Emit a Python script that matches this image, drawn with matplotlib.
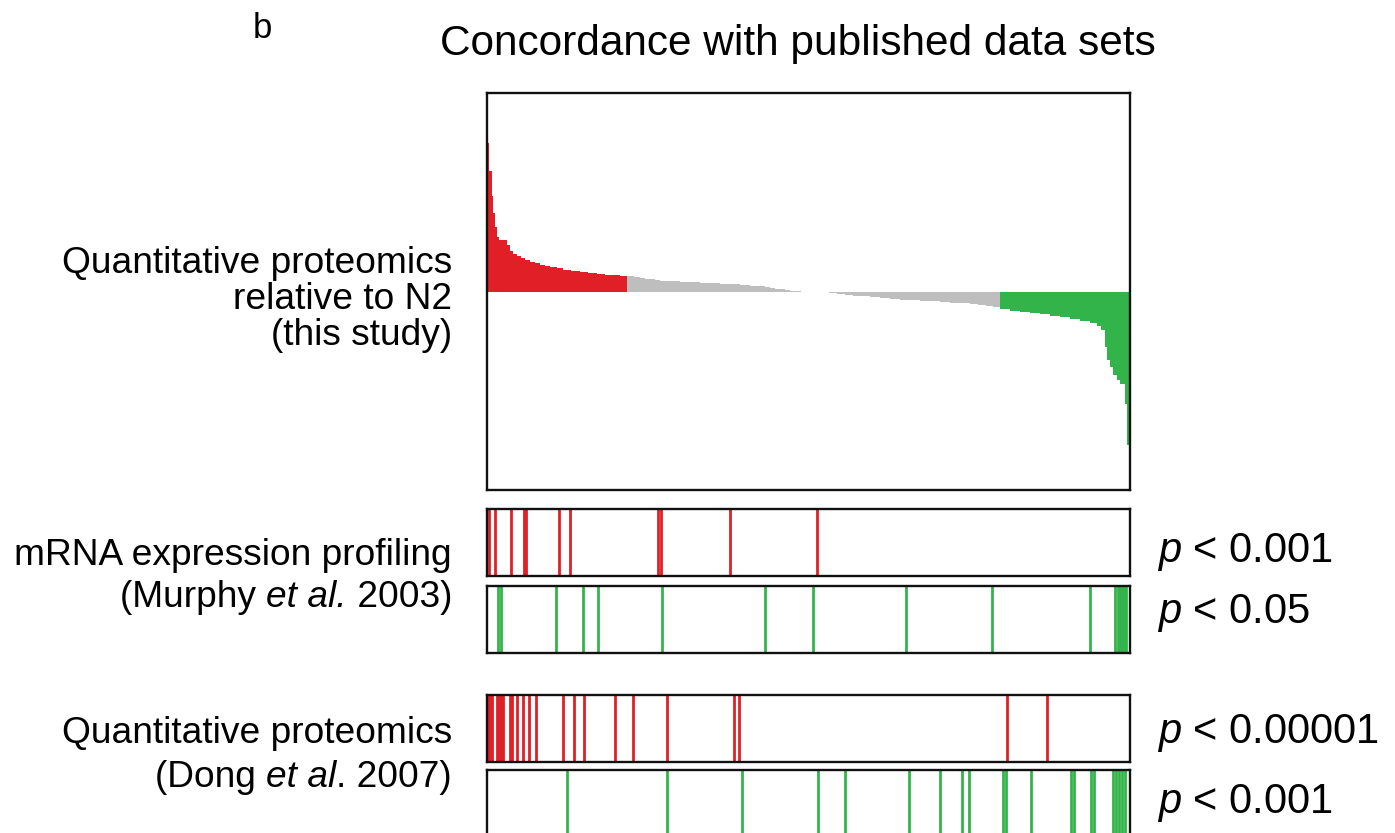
import numpy as np
import matplotlib
matplotlib.use("Agg")
import matplotlib.pyplot as plt

plt.rcParams['font.family'] = ['Liberation Sans', 'DejaVu Sans']
plt.rcParams['mathtext.fontset'] = 'custom'
plt.rcParams['mathtext.rm'] = 'Liberation Sans'
plt.rcParams['mathtext.it'] = 'Liberation Sans:italic'

RED = '#E01F26'
GREEN = '#33B44A'
GREY = '#BEBEBE'

# Ranked log ratios (this study), stored as steps: rank edges and step heights
up_edges = [0, 2, 4.7, 6.3, 8, 9.7, 12.3, 19.7, 23, 26, 30, 34, 38, 43, 48, 53, 58, 63,
            70, 76, 84, 93, 101, 110, 118, 126, 133, 140]
up_values = [1.50, 1.21, 0.96, 0.79, 0.65, 0.55, 0.52, 0.47, 0.41, 0.38, 0.36, 0.34,
             0.32, 0.30, 0.285, 0.27, 0.26, 0.25, 0.235, 0.22, 0.205, 0.195, 0.185,
             0.178, 0.17, 0.165, 0.16]

flat_pos_edges = [140, 147, 153, 158, 163, 168, 173, 183, 193, 203, 213, 223, 233, 243,
                  253, 263, 273, 278, 283, 288, 293, 298, 303, 308, 314]
flat_pos_values = [0.16, 0.15, 0.14, 0.13, 0.122, 0.116, 0.11, 0.105, 0.098, 0.092,
                   0.087, 0.082, 0.077, 0.071, 0.065, 0.058, 0.052, 0.045, 0.037, 0.029,
                   0.022, 0.016, 0.01, 0.005]

flat_neg_edges = [342, 350, 358, 366, 374, 383, 393, 403, 413, 423, 433, 443, 453, 463,
                  473, 483, 491, 499, 506, 513]
flat_neg_values = [-0.015, -0.025, -0.035, -0.045, -0.05, -0.06, -0.07, -0.077, -0.085,
                   -0.09, -0.095, -0.1, -0.105, -0.112, -0.12, -0.13, -0.14, -0.15, -0.16]

down_edges = [513, 523, 533, 543, 553, 563, 573, 583, 593, 603, 610, 614, 618, 620, 623,
              626, 630, 633, 638, 640, 641.5]
down_values = [-0.18, -0.195, -0.205, -0.215, -0.23, -0.245, -0.26, -0.28, -0.3, -0.32,
               -0.35, -0.39, -0.56, -0.69, -0.76, -0.84, -0.89, -0.93, -1.13, -1.55]

N_RANK = 643

# Ranks of genes called up / down in the published data sets
murphy_up = [2.3, 8.3, 24.3, 37, 39, 71.7, 83.3, 171, 173.5, 243, 329.7]
murphy_down = [11, 13.5, 69, 96.3, 110.7, 175.3, 277.7, 326.3, 418.7, 505, 603,
               627.5, 630.5, 633, 635, 637, 639]
dong_up = [1, 3, 5, 10, 12, 14, 16, 22.5, 24.5, 30, 36, 42, 49, 76.3, 86.7, 96.7,
           128.3, 145.7, 180.3, 247.3, 252.3, 519.7, 560]
dong_down = [80.3, 180, 254.7, 331, 358.3, 421.7, 453.3, 475, 482.3, 515.5, 518.5, 544,
             584, 587, 604, 607, 626, 629, 632, 635, 638]

W, H = 1395, 833
fig = plt.figure(figsize=(W / 100, H / 100), dpi=100)
renderer = fig.canvas.get_renderer()


def box(x0, y0, x1, y1):
    return [x0 / W, 1 - y1 / H, (x1 - x0) / W, (y1 - y0) / H]


def style(ax):
    ax.set_xticks([])
    ax.set_yticks([])
    for s in ax.spines.values():
        s.set_linewidth(1.7)
        s.set_color('#111111')
    ax.set_xlim(0, N_RANK)


ax = fig.add_axes(box(487, 93, 1130, 490))
style(ax)
ax.set_ylim(-2, 2)
for edges, vals, col in [(up_edges, up_values, RED),
                         (flat_pos_edges, flat_pos_values, GREY),
                         (flat_neg_edges, flat_neg_values, GREY),
                         (down_edges, down_values, GREEN)]:
    e = np.asarray(edges)
    ax.bar(e[:-1], vals, width=np.diff(e), align='edge', color=col, linewidth=0)

strips = [((509, 576), murphy_up, RED),
          ((586, 653), murphy_down, GREEN),
          ((695, 762), dong_up, RED),
          ((770, 837), dong_down, GREEN)]
for (y0, y1), ranks, col in strips:
    sax = fig.add_axes(box(487, y0, 1130, y1))
    style(sax)
    sax.set_ylim(0, 1)
    sax.vlines(ranks, 0, 1, colors=col, linewidth=2.0)


def ftext(x, y, s, **kw):
    return fig.text(x / W, 1 - y / H, s, **kw)


def rich_right(x, y, pieces, size):
    """Right-aligned text made of (string, fontstyle) runs."""
    right = x
    for s, fst in reversed(pieces):
        t = ftext(right, y, s, fontsize=size, fontstyle=fst, ha='right', va='baseline')
        bb = t.get_window_extent(renderer)
        right = bb.x0


ftext(262, 38, 'b', fontsize=25, ha='center', va='baseline')
ftext(798, 55, 'Concordance with published data sets', fontsize=30.5,
      ha='center', va='baseline')

LS = 26.7
ftext(452, 273, 'Quantitative proteomics', fontsize=LS, ha='right', va='baseline')
ftext(452, 309, 'relative to N2', fontsize=LS, ha='right', va='baseline')
ftext(452, 345, '(this study)', fontsize=LS, ha='right', va='baseline')

ftext(452, 565, 'mRNA expression profiling', fontsize=LS, ha='right', va='baseline')
rich_right(452, 607, [('(Murphy\u00a0', 'normal'), ('et al.', 'italic'),
                      ('\u00a02003)', 'normal')], LS)

ftext(452, 743, 'Quantitative proteomics', fontsize=LS, ha='right', va='baseline')
rich_right(452, 787, [('(Dong\u00a0', 'normal'), ('et al', 'italic'),
                      ('.\u00a02007)', 'normal')], LS)

PS = 30
ftext(1157, 562, r'$p$ < 0.001', fontsize=PS, ha='left', va='baseline')
ftext(1157, 623, r'$p$ < 0.05', fontsize=PS, ha='left', va='baseline')
ftext(1157, 743, r'$p$ < 0.00001', fontsize=PS, ha='left', va='baseline')
ftext(1157, 813, r'$p$ < 0.001', fontsize=PS, ha='left', va='baseline')

fig.savefig('out.png', dpi=100)
